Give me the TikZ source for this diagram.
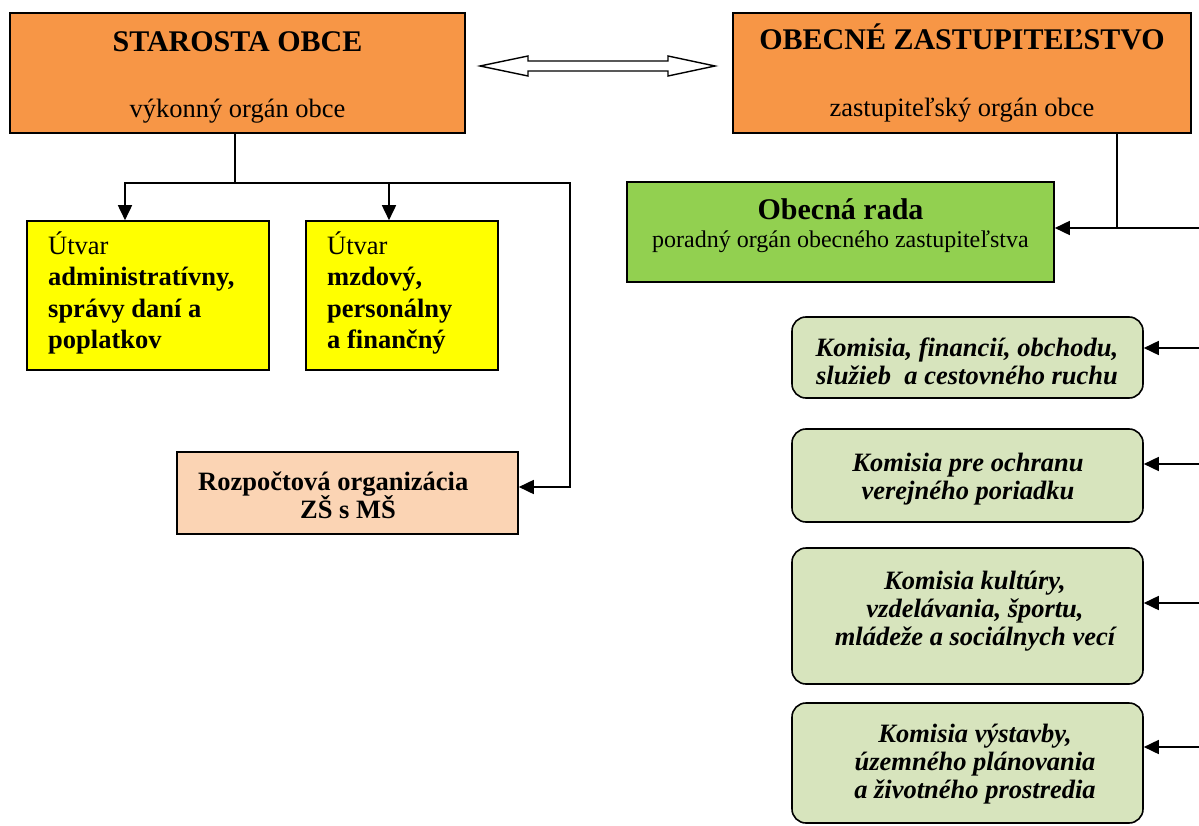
\documentclass[tikz,border=0pt]{standalone}
\usepackage{fontspec}
\setmainfont{Liberation Serif}
\usetikzlibrary{arrows.meta}
\definecolor{orng}{HTML}{F79646}
\definecolor{yel}{HTML}{FFFF00}
\definecolor{grn}{HTML}{92D050}
\definecolor{peach}{HTML}{FBD4B4}
\definecolor{lgrn}{HTML}{D7E4BD}
\begin{document}
\begin{tikzpicture}[x=1pt,y=-1pt,
  box/.style={draw=black, line width=1.6pt, inner sep=0pt},
  kom/.style={box, rounded corners=14pt, fill=lgrn},
  arr/.style={line width=1.7pt, -{Triangle[length=15pt,width=14pt]}},
  ln/.style={line width=1.3pt},
  t/.style={anchor=base, inner sep=0pt, font=\fontsize{26.5}{30}\selectfont},
  tb/.style={t, font=\fontsize{26.5}{30}\selectfont\bfseries},
  th/.style={t, font=\fontsize{30}{33}\selectfont\bfseries},
  ts/.style={t, font=\fontsize{24}{28}\selectfont},
  tk/.style={t, font=\fontsize{26.5}{30}\selectfont\bfseries\itshape},
  tl/.style={t, anchor=base west},
  tlb/.style={tb, anchor=base west}
]
\useasboundingbox (0,0) rectangle (1199,826);

% boxes
\node[box, fill=orng, minimum width=455pt, minimum height=120pt] (s) at (237.5,73) {};
\node[box, fill=orng, minimum width=458pt, minimum height=120pt] (z) at (962,73) {};
\node[box, fill=yel, minimum width=242pt, minimum height=149pt] (y1) at (148,295.5) {};
\node[box, fill=yel, minimum width=192pt, minimum height=149pt] (y2) at (402,295.5) {};
\node[box, fill=peach, minimum width=341pt, minimum height=82pt] (p) at (347.5,493) {};
\node[box, fill=grn, minimum width=427pt, minimum height=100pt] (r) at (840.5,232) {};
\node[kom, minimum width=351pt, minimum height=81pt] (k1) at (967.5,357.5) {};
\node[kom, minimum width=351pt, minimum height=93pt] (k2) at (967.5,475.5) {};
\node[kom, minimum width=351pt, minimum height=136pt] (k3) at (967.5,616) {};
\node[kom, minimum width=351pt, minimum height=120pt] (k4) at (967.5,763) {};

% texts
\node[th] (s1) at (237.5,52) {STAROSTA OBCE};
\node[t] (s2) at (237.5,118) {výkonný orgán obce};
\node[th] (z1) at (962,50) {OBECNÉ ZASTUPITEĽSTVO};
\node[t] (z2) at (962,117) {zastupiteľský orgán obce};
\node[th] (r1) at (840.5,220) {Obecná rada};
\node[ts] (r2) at (840.5,248) {poradný orgán obecného zastupiteľstva};

\node[tl] (a1) at (48,255) {Útvar};
\node[tlb] (a2) at (48,286) {administratívny,};
\node[tlb] (a3) at (48,317) {správy daní a};
\node[tlb] (a4) at (48,348) {poplatkov};
\node[tl] (b1) at (327,255) {Útvar};
\node[tlb] (b2) at (327,286) {mzdový,};
\node[tlb] (b3) at (327,317) {personálny};
\node[tlb] (b4) at (327,348) {a finančný};

\node[tlb] (p1) at (198,490) {Rozpočtová organizácia};
\node[tlb] (p2) at (300,518) {ZŠ s MŠ};

\node[tk] (k11) at (967,356) {Komisia, financií, obchodu,};
\node[tk] (k12) at (967,384) {služieb\ \ a cestovného ruchu};
\node[tk] (k21) at (968,471) {Komisia pre ochranu};
\node[tk] (k22) at (968,499) {verejného poriadku};
\node[tk] (k31) at (975,589) {Komisia kultúry,};
\node[tk] (k32) at (975,617) {vzdelávania, športu,};
\node[tk] (k33) at (975,645) {mládeže a sociálnych vecí};
\node[tk] (k41) at (975,742) {Komisia výstavby,};
\node[tk] (k42) at (975,770) {územného plánovania};
\node[tk] (k43) at (975,798) {a životného prostredia};

% double arrow between the two heads
\draw[line width=1.4pt, fill=white, line join=miter]
  (480,66) -- (528,56) -- (528,61) -- (668,61) -- (668,56) -- (715,66)
  -- (668,76) -- (668,71) -- (528,71) -- (528,76) -- cycle;

% left connectors
\coordinate (j) at (235,183);
\coordinate (c1) at (570,183);
\coordinate (c2) at (570,487);
\draw[ln] (s.south -| j) -- (j);
\draw[arr] (j) -| ([xshift=-23pt]y1.north);
\draw[arr] (j) -| ([xshift=-13pt]y2.north);
\draw[arr] (j) -- (c1) -- (c2) -- (c2 -| p.east);

% right connectors
\coordinate (zj) at (1117,228);
\coordinate (e0) at (1199,228);
\coordinate (e1) at (1199,348);
\coordinate (e2) at (1199,464);
\coordinate (e3) at (1199,603);
\coordinate (e4) at (1199,747);
\draw[ln] (z.south -| zj) -- (zj);
\draw[arr] (e0) -- (e0 -| r.east);
\draw[arr] (e1) -- (e1 -| k1.east);
\draw[arr] (e2) -- (e2 -| k2.east);
\draw[arr] (e3) -- (e3 -| k3.east);
\draw[arr] (e4) -- (e4 -| k4.east);
\end{tikzpicture}
\end{document}
